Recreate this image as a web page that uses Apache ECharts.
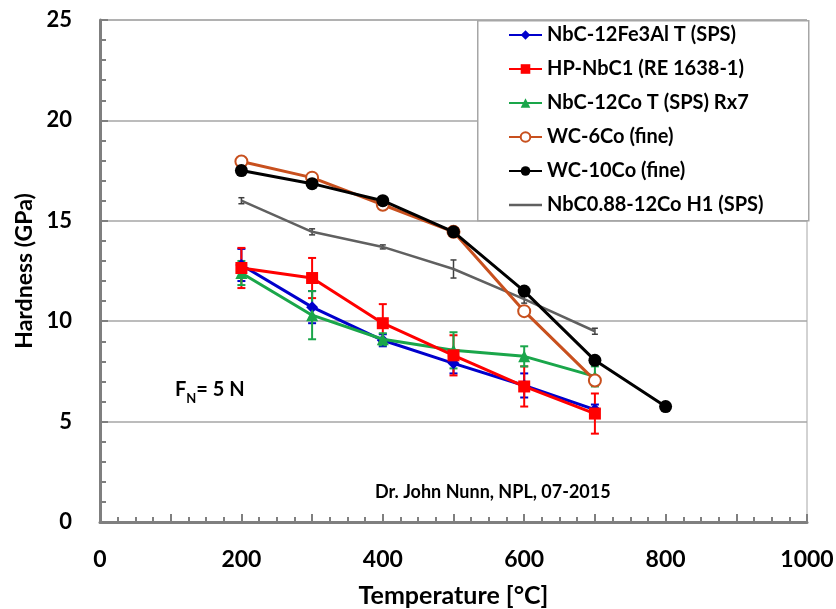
<!DOCTYPE html>
<html><head><meta charset="utf-8">
<script src="https://cdn.jsdelivr.net/npm/echarts@6/dist/echarts.min.js"></script>
<style>html,body{margin:0;padding:0;background:#fff}#c{width:836px;height:609px}</style>
</head><body><div id="c"></div>
<script>
const temps = [200, 300, 400, 500, 600, 700];
const temps10 = [200, 300, 400, 500, 600, 700, 800];
const nbcFe = [12.8, 10.7, 9.05, 7.9, 6.8, 5.6];
const nbcFeErr = [0.8, 0.8, 0.3, 0.5, 0.6, 0.25];
const hpNbc = [12.65, 12.15, 9.9, 8.3, 6.75, 5.4];
const hpNbcErr = [1.0, 1.0, 0.95, 1.0, 1.0, 1.0];
const nbcCo = [12.4, 10.3, 9.1, 8.55, 8.25, 7.25];
const nbcCoErr = [0.6, 1.2, 0.3, 0.9, 0.5, 0.5];
const wc6 = [17.95, 17.15, 15.8, 14.45, 10.5, 7.05];
const wc10 = [17.5, 16.85, 16.0, 14.45, 11.5, 8.05, 5.75];
const nbc088 = [16.0, 14.45, 13.7, 12.6, 11.1, 9.5];
const nbc088Err = [0.15, 0.15, 0.1, 0.45, 0.2, 0.15];
const names = ['NbC-12Fe3Al T (SPS)', 'HP-NbC1 (RE 1638-1)', 'NbC-12Co T (SPS) Rx7', 'WC-6Co (fine)', 'WC-10Co (fine)', 'NbC0.88-12Co H1 (SPS)'];
const xTicks = [0, 200, 400, 600, 800, 1000];
const yTicks = [0, 5, 10, 15, 20, 25];

const FONT = 'Lato';
const pair = (xs, ys) => xs.map((x, i) => [x, ys[i]]);
function errSeries(xs, ys, errs, color, cap, width, z) {
  return {
    type: 'custom', z: z, silent: true,
    data: xs.map((x, i) => [x, ys[i] - errs[i], ys[i] + errs[i]]),
    renderItem: function (params, api) {
      const lo = api.coord([api.value(0), api.value(1)]);
      const hi = api.coord([api.value(0), api.value(2)]);
      const st = { stroke: color, lineWidth: width };
      return { type: 'group', children: [
        { type: 'line', shape: { x1: lo[0], y1: lo[1], x2: hi[0], y2: hi[1] }, style: st },
        { type: 'line', shape: { x1: lo[0] - cap, y1: lo[1], x2: lo[0] + cap, y2: lo[1] }, style: st },
        { type: 'line', shape: { x1: hi[0] - cap, y1: hi[1], x2: hi[0] + cap, y2: hi[1] }, style: st }
      ]};
    }
  };
}
function lineSeries(name, xs, ys, color, symbol, size, width, z, extra) {
  return Object.assign({
    name: name, type: 'line', data: pair(xs, ys), z: z,
    symbol: symbol, symbolSize: size, showSymbol: symbol !== 'none',
    lineStyle: { color: color, width: width },
    itemStyle: { color: color },
    emphasis: { disabled: true }
  }, extra || {});
}
const legendData = names.map((n, i) => i === 5
  ? { name: n, icon: 'path://M0,0 M33,12 M0,4.75 L33,4.75 L33,7.25 L0,7.25 Z' }
  : { name: n });
const chart = echarts.init(document.getElementById('c'));
chart.setOption({
  animation: false,
  textStyle: { fontFamily: FONT },
  grid: { left: 100, right: 29, top: 20, bottom: 87, outerBoundsMode: 'none', containLabel: false,
    show: true, borderColor: '#a6a6a6', borderWidth: 1 },
  xAxis: {
    type: 'value', min: 0, max: 1000, interval: 100,
    name: 'Temperature [°C]', nameLocation: 'middle', nameGap: 61,
    nameTextStyle: { fontFamily: FONT, fontWeight: 'bold', fontSize: 25, color: '#000' },
    axisLine: { lineStyle: { color: '#7f7f7f', width: 3 } },
    axisTick: { inside: true, length: 8, lineStyle: { color: '#7f7f7f', width: 2 } },
    minorTick: { show: true, splitNumber: 4, length: 5, lineStyle: { color: '#7f7f7f', width: 2 } },
    axisLabel: { margin: 26, fontFamily: FONT, fontWeight: 'bold', fontSize: 23, color: '#000',
      formatter: v => xTicks.indexOf(v) >= 0 ? String(v) : '' },
    splitLine: { show: false }
  },
  yAxis: {
    type: 'value', min: 0, max: 25, interval: 5,
    name: 'Hardness (GPa)', nameLocation: 'middle', nameGap: 64, nameRotate: 90,
    nameTextStyle: { fontFamily: FONT, fontWeight: 'bold', fontSize: 23, color: '#000' },
    axisLine: { show: true, lineStyle: { color: '#7f7f7f', width: 3 } },
    axisTick: { show: true, inside: true, length: 8, lineStyle: { color: '#7f7f7f', width: 2 } },
    minorTick: { show: true, splitNumber: 5, length: 6, lineStyle: { color: '#7f7f7f', width: 2 } },
    axisLabel: { margin: 28, fontFamily: FONT, fontWeight: 'bold', fontSize: 22, color: '#000',
      formatter: v => yTicks.indexOf(v) >= 0 ? String(v) : '' },
    splitLine: { show: true, lineStyle: { color: '#a6a6a6', width: 1.5 } }
  },
  legend: {
    orient: 'vertical', left: 477, top: 20, z: 20,
    data: legendData,
    padding: [4, 10, 4, 31], itemGap: 12, itemWidth: 33, itemHeight: 12,
    borderWidth: 0,
    textStyle: { fontFamily: FONT, fontWeight: 'bold', fontSize: 20, color: '#000', lineHeight: 22 }
  },
  graphic: [
    { type: 'rect', left: 477, top: 20, z: 15, shape: { width: 331, height: 200 },
      style: { fill: '#fff', stroke: '#a6a6a6', lineWidth: 1.5 } },
    { type: 'text', left: 175, top: 380, z: 100,
      style: { text: '{a|F}{s|N}{a|= 5 N}', rich: {
        a: { fontFamily: FONT, fontWeight: 'bold', fontSize: 20, fill: '#000', verticalAlign: 'bottom' },
        s: { fontFamily: FONT, fontWeight: 'bold', fontSize: 13, fill: '#000', verticalAlign: 'bottom', padding: [0, 0, -5, 0] } } } },
    { type: 'text', left: 375, top: 483, z: 100,
      style: { text: 'Dr. John Nunn, NPL, 07-2015', fontFamily: FONT, fontWeight: 'bold', fontSize: 18, fill: '#000' } }
  ],
  series: [
    errSeries(temps, nbc088, nbc088Err, '#404040', 3, 1.5, 2),
    lineSeries(names[5], temps, nbc088, '#606060', 'none', 0, 2.5, 3),
    errSeries(temps, nbcFe, nbcFeErr, '#0000cc', 4, 2, 4),
    errSeries(temps, hpNbc, hpNbcErr, '#ff0000', 4, 2, 4),
    errSeries(temps, nbcCo, nbcCoErr, '#1aa64a', 4, 2, 4),
    lineSeries(names[0], temps, nbcFe, '#0000cc', 'diamond', 12, 3, 5),
    lineSeries(names[2], temps, nbcCo, '#1aa64a', 'triangle', 12, 3, 6),
    lineSeries(names[1], temps, hpNbc, '#ff0000', 'rect', 12, 3, 7),
    lineSeries(names[3], temps, wc6, '#c8501e', 'emptyCircle', 12, 3, 8, { itemStyle: { color: '#c8501e', borderWidth: 1.2 } }),
    lineSeries(names[4], temps10, wc10, '#000000', 'circle', 13, 3, 9)
  ]
});
</script></body></html>
